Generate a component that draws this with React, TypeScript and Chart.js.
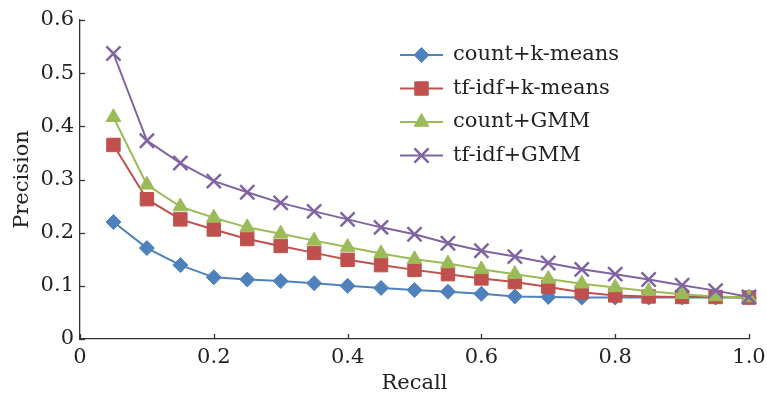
import React, { useEffect, useRef } from "react";
import { Chart, registerables } from "chart.js";
import { drawPoint } from "chart.js/helpers";

Chart.register(...registerables);

const recall = [0.05, 0.1, 0.15, 0.2, 0.25, 0.3, 0.35, 0.4, 0.45, 0.5, 0.55, 0.6, 0.65, 0.7, 0.75, 0.8, 0.85, 0.9, 0.95, 1.0];
const countKMeans = [0.220, 0.171, 0.139, 0.116, 0.112, 0.109, 0.105, 0.100, 0.096, 0.092, 0.089, 0.085, 0.080, 0.079, 0.078, 0.078, 0.078, 0.078, 0.078, 0.078];
const tfidfKMeans = [0.365, 0.263, 0.225, 0.206, 0.188, 0.175, 0.162, 0.149, 0.139, 0.130, 0.122, 0.114, 0.107, 0.098, 0.088, 0.082, 0.080, 0.079, 0.079, 0.078];
const countGMM = [0.417, 0.290, 0.249, 0.228, 0.210, 0.198, 0.185, 0.173, 0.161, 0.150, 0.142, 0.131, 0.122, 0.113, 0.104, 0.097, 0.090, 0.084, 0.080, 0.078];
const tfidfGMM = [0.537, 0.373, 0.331, 0.297, 0.276, 0.256, 0.240, 0.225, 0.210, 0.197, 0.180, 0.166, 0.155, 0.143, 0.131, 0.122, 0.112, 0.101, 0.091, 0.079];

const seriesLabels = ["count+k-means", "tf-idf+k-means", "count+GMM", "tf-idf+GMM"];
const seriesColors = ["#4F81BD", "#C0504D", "#9BBB59", "#8064A2"];
const seriesValues = [countKMeans, tfidfKMeans, countGMM, tfidfGMM];
const seriesStyles = ["rectRot", "rect", "triangle", "crossRot"];
const seriesRadii = [7.5, 9.5, 8.5, 10];

const FONT = "'DejaVu Serif', serif";
const TEXT = "#222222";

const inwardTicks = {
  id: "inwardTicks",
  afterDraw(chart: any) {
    const { ctx, chartArea, scales } = chart;
    ctx.save();
    ctx.strokeStyle = "#333333";
    ctx.lineWidth = 1.3;
    const len = 5;
    scales.x.ticks.forEach((t: any) => {
      const px = Math.round(scales.x.getPixelForValue(t.value)) + 0.5;
      ctx.beginPath();
      ctx.moveTo(px, chartArea.bottom);
      ctx.lineTo(px, chartArea.bottom - len);
      ctx.stroke();
    });
    scales.y.ticks.forEach((t: any) => {
      const py = Math.round(scales.y.getPixelForValue(t.value)) + 0.5;
      ctx.beginPath();
      ctx.moveTo(chartArea.left, py);
      ctx.lineTo(chartArea.left + len, py);
      ctx.stroke();
    });
    ctx.restore();
  },
};

const lineLegend = {
  id: "lineLegend",
  afterDraw(chart: any) {
    const { ctx, chartArea } = chart;
    const x0 = chartArea.left + 320;
    const lineW = 43;
    const y0 = chartArea.top + 35;
    const rowH = 33.5;
    ctx.save();
    chart.data.datasets.forEach((ds: any, i: number) => {
      const y = y0 + i * rowH;
      ctx.strokeStyle = ds.borderColor;
      ctx.lineWidth = 2;
      ctx.beginPath();
      ctx.moveTo(x0, y);
      ctx.lineTo(x0 + lineW, y);
      ctx.stroke();
      ctx.fillStyle = ds.pointBackgroundColor;
      ctx.strokeStyle = ds.pointBorderColor;
      ctx.lineWidth = ds.pointBorderWidth;
      drawPoint(ctx, { pointStyle: ds.pointStyle, radius: ds.pointRadius, rotation: 0, borderWidth: ds.pointBorderWidth }, x0 + lineW / 2, y);
      ctx.fillStyle = TEXT;
      ctx.font = `21px ${FONT}`;
      ctx.textAlign = "left";
      ctx.textBaseline = "middle";
      ctx.fillText(ds.label, x0 + lineW + 10, y);
    });
    ctx.restore();
  },
};

export default function App() {
  const canvasRef = useRef<HTMLCanvasElement>(null);

  useEffect(() => {
    if (!canvasRef.current) return;
    const datasets = seriesLabels.map((label, i) => ({
      label,
      data: recall.map((r, j) => ({ x: r, y: seriesValues[i][j] })),
      borderColor: seriesColors[i],
      backgroundColor: seriesColors[i],
      pointBackgroundColor: seriesColors[i],
      pointBorderColor: seriesColors[i],
      pointBorderWidth: seriesStyles[i] === "crossRot" ? 2.5 : 1,
      pointStyle: seriesStyles[i],
      pointRadius: seriesRadii[i],
      borderWidth: 2,
      tension: 0,
      order: 4 - i,
    }));

    const chart = new Chart(canvasRef.current, {
      type: "line",
      data: { datasets },
      plugins: [inwardTicks, lineLegend],
      options: {
        animation: false,
        responsive: false,
        maintainAspectRatio: false,
        clip: false,
        layout: { padding: { top: 20, right: 18, left: 0, bottom: 0 } },
        plugins: { legend: { display: false }, tooltip: { enabled: false } },
        scales: {
          x: {
            type: "linear",
            min: 0,
            max: 1,
            afterFit: (s: any) => { s.height = 60; s.paddingRight = 0; s.paddingLeft = 0; },
            border: { display: true, color: "#333333", width: 1.3 },
            grid: { display: false, drawTicks: false },
            ticks: {
              stepSize: 0.2,
              padding: 6,
              color: TEXT,
              font: { family: FONT, size: 21 },
              callback: (v: any) => (v === 0 ? "0" : Number(v).toFixed(1)),
            },
            title: { display: true, text: "Recall", color: TEXT, font: { family: FONT, size: 21 }, padding: { top: 0, bottom: 3 } },
          },
          y: {
            type: "linear",
            min: 0,
            max: 0.6,
            afterFit: (s: any) => { s.width = 80; s.paddingTop = 0; s.paddingBottom = 0; },
            border: { display: true, color: "#333333", width: 1.3 },
            grid: { display: false, drawTicks: false },
            ticks: {
              stepSize: 0.1,
              padding: 6,
              color: TEXT,
              font: { family: FONT, size: 21 },
              callback: (v: any) => (Math.abs(v) < 1e-9 ? "0" : Number(v).toFixed(1)),
            },
            title: { display: true, text: "Precision", color: TEXT, font: { family: FONT, size: 21 }, padding: { top: 10, bottom: 4 } },
          },
        },
      },
    });
    return () => chart.destroy();
  }, []);

  return (
    <div style={{ position: "fixed", left: 0, top: 0, width: 767, height: 399, background: "#ffffff" }}>
      <canvas ref={canvasRef} width={767} height={399} style={{ width: 767, height: 399 }} />
    </div>
  );
}
